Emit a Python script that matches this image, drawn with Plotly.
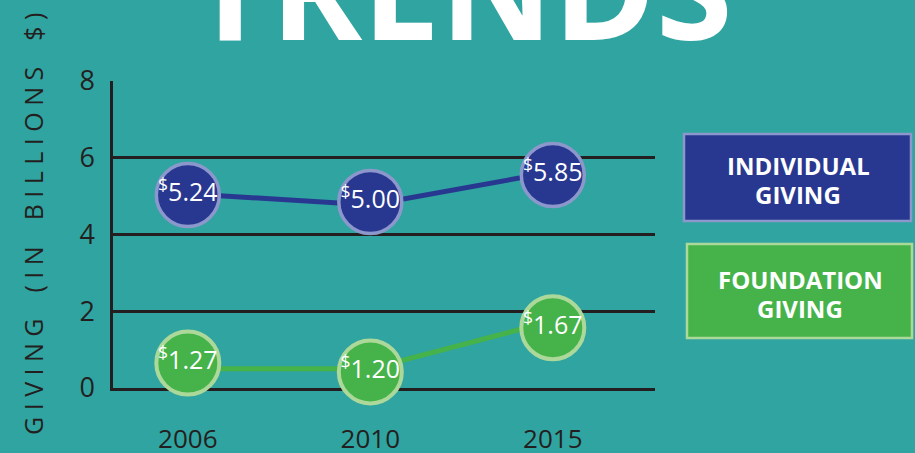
import plotly.graph_objects as go

# ---- data ----
years = ["2006", "2010", "2015"]
individual_giving = [5.24, 5.00, 5.85]          # labelled values (billions $)
foundation_giving = [1.27, 1.20, 1.67]
# positions of the marks as drawn in the infographic
individual_marker_y = [5.03, 4.85, 5.55]
individual_line_y = [5.06, 4.77, 5.63]
foundation_marker_y = [0.65, 0.42, 1.57]
foundation_line_y = [0.50, 0.50, 1.75]
y_ticks = [0, 2, 4, 6, 8]

# ---- style ----
BG = "#30a4a0"
DARK = "#231f20"
BLUE = "#283891"
BLUE_EDGE = "#8c97cc"
GREEN = "#45b349"
GREEN_EDGE = "#acd99a"
FONT = "Open Sans"

W, H = 915, 453
L, R, T, B = 113, 260, 81, 65
PW, PH = W - L - R, H - T - B


def px(x):
    return (x - L) / PW


def py(y):
    return (H - B - y) / PH


fig = go.Figure()

fig.add_trace(go.Scatter(x=years, y=individual_line_y, mode="lines",
                         line=dict(color=BLUE, width=5), hoverinfo="skip",
                         showlegend=False, cliponaxis=False))
fig.add_trace(go.Scatter(x=years, y=foundation_line_y, mode="lines",
                         line=dict(color=GREEN, width=5), hoverinfo="skip",
                         showlegend=False, cliponaxis=False))

fig.add_trace(go.Scatter(
    x=years, y=individual_marker_y, mode="markers+text",
    marker=dict(size=63, color=BLUE, line=dict(color=BLUE_EDGE, width=3.5)),
    text=[f"<sup>$</sup>{v:.2f}" for v in individual_giving],
    textposition="middle center",
    textfont=dict(family=FONT, size=25, color="white"),
    showlegend=False, cliponaxis=False, name="Individual Giving"))
fig.add_trace(go.Scatter(
    x=years, y=foundation_marker_y, mode="markers+text",
    marker=dict(size=63, color=GREEN, line=dict(color=GREEN_EDGE, width=4)),
    text=[f"<sup>$</sup>{v:.2f}" for v in foundation_giving],
    textposition="middle center",
    textfont=dict(family=FONT, size=25, color="white"),
    showlegend=False, cliponaxis=False, name="Foundation Giving"))

# legend boxes
fig.add_shape(type="rect", xref="paper", yref="paper",
              x0=px(684), x1=px(911), y0=py(221), y1=py(134),
              fillcolor=BLUE, line=dict(color=BLUE_EDGE, width=2.5), layer="above")
fig.add_shape(type="rect", xref="paper", yref="paper",
              x0=px(687), x1=px(912), y0=py(338), y1=py(244),
              fillcolor=GREEN, line=dict(color=GREEN_EDGE, width=2.5), layer="above")

legend_font = dict(family=FONT, size=24, color="white", weight="bold")


def label(text, x, y):
    return dict(text=text, x=px(x), y=py(y), xref="paper", yref="paper",
                showarrow=False, font=legend_font, xanchor="center", yanchor="middle",
                height=27)


def spaced(word):
    return "\u00a0".join(list(word))


gap = "\u00a0" * 4
annotations = [
    label("INDIVIDUAL", 798, 165),
    label("GIVING", 798, 194),
    label("FOUNDATION", 800, 279),
    label("GIVING", 800, 308),
    dict(text="TRENDS", x=px(461), y=py(45), xref="paper", yref="paper",
         showarrow=False, font=dict(family=FONT, size=139, color="white", weight="bold"),
         xanchor="center", yanchor="bottom", yshift=-38),
    dict(text=gap.join([spaced("GIVING"), spaced("(IN"), spaced("BILLIONS"), spaced("$)")]),
         x=px(33), y=py(224), xref="paper", yref="paper", textangle=-90,
         showarrow=False, font=dict(family=FONT, size=25, color=DARK),
         xanchor="center", yanchor="middle"),
]

fig.update_layout(
    width=W, height=H,
    margin=dict(l=L, r=R, t=T, b=B),
    paper_bgcolor=BG, plot_bgcolor=BG,
    annotations=annotations,
    xaxis=dict(type="category", range=[-0.41, 2.56], showgrid=False,
               showline=True, linecolor=DARK, linewidth=2.5, ticks="",
               tickfont=dict(family=FONT, size=26, color=DARK),
               ticklabelstandoff=26, layer="below traces", zeroline=False,
               automargin=False),
    yaxis=dict(range=[0, 8], tickvals=y_ticks, showgrid=True, gridcolor=DARK,
               gridwidth=2.5, showline=True, linecolor=DARK, linewidth=2.5,
               ticks="", tickfont=dict(family=FONT, size=27, color=DARK),
               ticklabelstandoff=10, zeroline=False, layer="below traces",
               automargin=False),
)

fig.write_html("out.html")
